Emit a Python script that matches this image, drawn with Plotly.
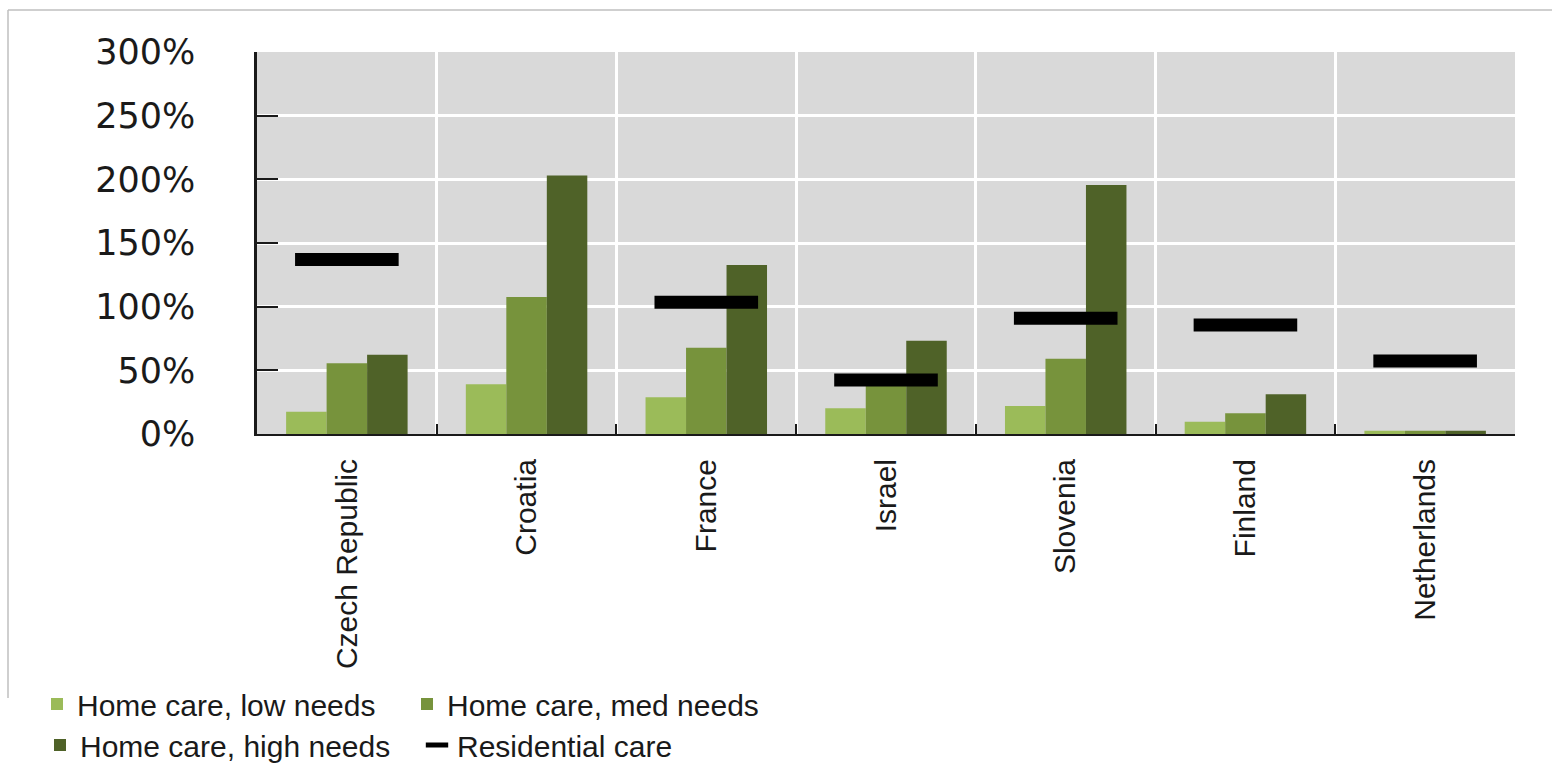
import plotly.graph_objects as go

# ---- data (percent) ----
countries = ["Czech Republic", "Croatia", "France", "Israel", "Slovenia", "Finland", "Netherlands"]
low_needs = [17.5, 39, 28.8, 20.2, 22, 9.7, 2.6]
med_needs = [55.5, 107.5, 67.8, 40, 59, 16.2, 2.6]
high_needs = [62.2, 203, 132.7, 73.2, 195.5, 31.2, 2.6]
residential = [137, None, 103.4, 42.4, 91, 85.6, 57.3]
y_tick_vals = [0, 50, 100, 150, 200, 250, 300]
y_tick_text = ["0%", "50%", "100%", "150%", "200%", "250%", "300%"]

# ---- layout constants ----
W, H = 1552, 764
ML, MR, MT, MB = 257, 37, 52, 330
PW, PH = W - ML - MR, H - MT - MB

def px_x(px):
    return (px - ML) / PW

def px_y(py):
    return (H - MB - py) / PH

C_LOW, C_MED, C_HIGH = "#9BBB59", "#77933C", "#4F6228"
LEG_FONT = dict(family="Liberation Sans, Arial, sans-serif", size=30, color="#1a1a1a")

fig = go.Figure()
fig.add_trace(go.Bar(x=countries, y=low_needs, name="Home care, low needs",
                     marker=dict(color=C_LOW, line=dict(width=0)), legend="legend"))
fig.add_trace(go.Bar(x=countries, y=med_needs, name="Home care, med needs",
                     marker=dict(color=C_MED, line=dict(width=0)), legend="legend"))
fig.add_trace(go.Bar(x=countries, y=high_needs, name="Home care, high needs",
                     marker=dict(color=C_HIGH, line=dict(width=0)), legend="legend2"))
fig.add_trace(go.Scatter(x=countries, y=residential, name="Residential care", mode="markers",
                         marker=dict(symbol="line-ew", size=74, color="black",
                                     line=dict(width=13, color="black")),
                         legend="legend2"))

fig.update_layout(
    width=W, height=H,
    margin=dict(l=ML, r=MR, t=MT, b=MB, autoexpand=False),
    paper_bgcolor="white",
    plot_bgcolor="#D9D9D9",
    barmode="group", bargap=0.324, bargroupgap=0,
    showlegend=True,
    legend=dict(orientation="h", xref="container", yref="container",
                x=37 / W, y=1 - 704 / H, xanchor="left", yanchor="middle",
                entrywidth=325, font=LEG_FONT, bgcolor="rgba(0,0,0,0)",
                traceorder="normal"),
    legend2=dict(orientation="h", xref="container", yref="container",
                 x=40 / W, y=1 - 745 / H, xanchor="left", yanchor="middle",
                 entrywidth=332, font=LEG_FONT, bgcolor="rgba(0,0,0,0)",
                 traceorder="normal"),
    xaxis=dict(
        type="category",
        range=[-0.5, len(countries) - 0.5],
        automargin=False,
        showline=True, linecolor="#1a1a1a", linewidth=2,
        ticks="inside", ticklen=10, tickwidth=2, tickcolor="#1a1a1a",
        tickson="boundaries",
        showgrid=True, gridcolor="white", gridwidth=2.5,
        tickangle=-90,
        tickfont=dict(family="Liberation Sans Narrow, Liberation Sans, Arial, sans-serif",
                      size=30, color="#1a1a1a"),
        ticklabelstandoff=11,
        zeroline=False,
    ),
    yaxis=dict(
        range=[0, 300],
        automargin=False,
        tickvals=y_tick_vals, ticktext=y_tick_text,
        showline=True, linecolor="#1a1a1a", linewidth=2.5,
        ticks="inside", ticklen=21, tickwidth=2, tickcolor="#1a1a1a",
        showgrid=True, gridcolor="white", gridwidth=2.5,
        tickfont=dict(family="DejaVu Sans, Verdana, sans-serif", size=35, color="#1a1a1a"),
        ticklabelstandoff=52,
        zeroline=False,
    ),
    shapes=[
        dict(type="line", xref="paper", yref="paper",
             x0=px_x(8), x1=px_x(W + 5), y0=px_y(10), y1=px_y(10),
             line=dict(color="#BFBFBF", width=1.5)),
        dict(type="line", xref="paper", yref="paper",
             x0=px_x(8), x1=px_x(8), y0=px_y(10), y1=px_y(698),
             line=dict(color="#BFBFBF", width=1.5)),
    ],
)

fig.write_html("out.html")
